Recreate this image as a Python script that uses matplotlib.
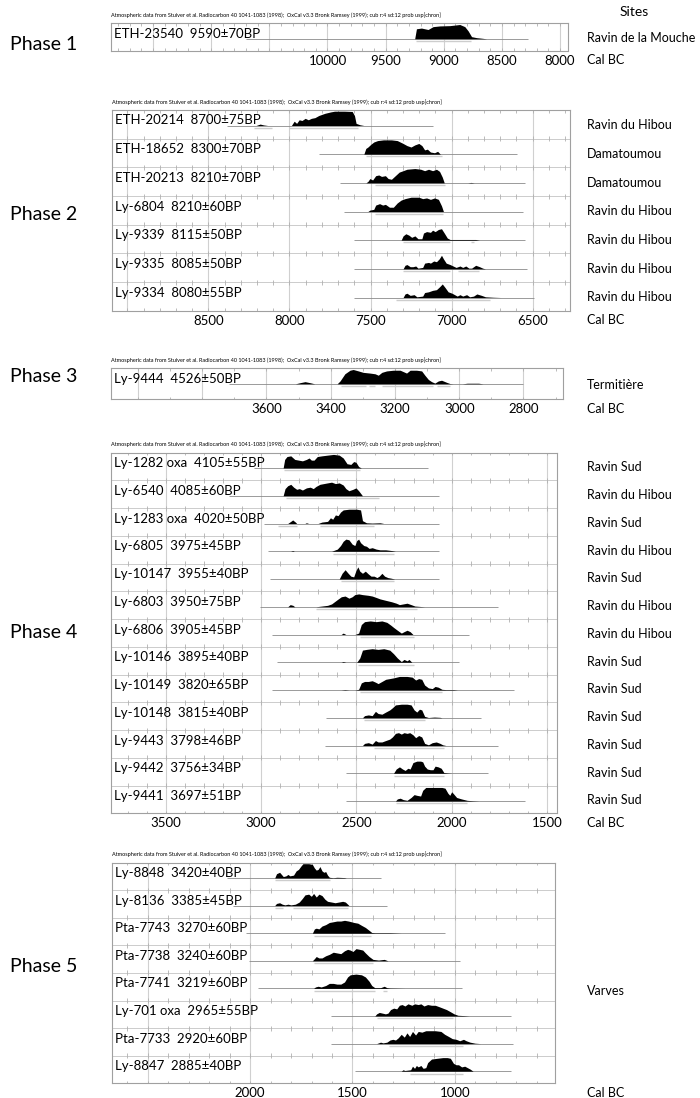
import numpy as np
import matplotlib
matplotlib.use("Agg")
import matplotlib.pyplot as plt
from matplotlib import transforms

plt.rcParams['font.family'] = ['Lato', 'DejaVu Sans']

W, H = 700, 1098
header = ("Atmospheric data from Stuiver et al. Radiocarbon 40 1041-1083 (1998);  "
          "OxCal v3.3 Bronk Ramsey (1999); cub r:4 sd:12 prob usp[chron]")

# ---------------- Phase 1 ----------------
p1_labels = ["ETH-23540  9590±70BP"]
p1_sites = ["Ravin de la Mouche"]
p1_curves = [
    [(9250, 0), (9235, .7), (9192, .75), (9135, .65), (9092, .85), (9034, .9), (8948, .92),
     (8862, 1), (8819, .85), (8790, .55), (8761, .15), (8718, .08), (8661, .03), (8632, 0)],
]
p1_lines = [(10700, 8273)]
p1_bars = [[(9240, 8770)]]

# ---------------- Phase 2 ----------------
p2_labels = ["ETH-20214  8700±75BP", "ETH-18652  8300±70BP", "ETH-20213  8210±70BP",
             "Ly-6804  8210±60BP", "Ly-9339  8115±50BP", "Ly-9335  8085±50BP",
             "Ly-9334  8080±55BP"]
p2_sites = ["Ravin du Hibou", "Damatoumou", "Damatoumou", "Ravin du Hibou",
            "Ravin du Hibou", "Ravin du Hibou", "Ravin du Hibou"]
p2_curves = [
    [(8206, 0), (8181, .1), (8160, .04), (8135, 0), (7988, 0), (7971, .3), (7956, .15), (7940, .4),
     (7923, .35), (7903, .5), (7884, .4), (7865, .5), (7843, .55), (7819, .7), (7782, .85),
     (7746, .95), (7722, 1), (7661, 1), (7613, .98), (7599, .7), (7589, .15), (7565, .05), (7541, 0)],
    [(7541, 0), (7529, .4), (7516, .5), (7497, .7), (7480, .85), (7456, .95), (7420, 1), (7371, 1),
     (7335, .95), (7299, .75), (7275, .6), (7250, .5), (7226, .65), (7202, .75), (7183, .6),
     (7166, .3), (7149, .35), (7130, .15), (7105, .1), (7086, .2), (7069, 0)],
    [(7528, 0), (7516, .1), (7504, .3), (7487, .2), (7468, .5), (7449, .55), (7432, .45), (7408, .5),
     (7391, .3), (7371, .25), (7347, .5), (7323, .75), (7299, .85), (7275, .95), (7226, 1),
     (7190, .95), (7166, .85), (7142, .95), (7117, .85), (7093, .95), (7074, .8), (7057, .4),
     (7045, 0), (6900, 0), (6880, .03), (6860, 0)],
    [(7516, 0), (7504, .1), (7480, .15), (7468, .45), (7444, .55), (7425, .45), (7408, .5),
     (7383, .3), (7359, .3), (7335, .6), (7311, .8), (7287, .9), (7250, 1), (7202, 1), (7178, .9),
     (7154, .95), (7130, .85), (7105, .95), (7081, .85), (7062, .4), (7050, 0)],
    [(7311, 0), (7299, .3), (7282, .45), (7263, .35), (7246, .2), (7226, .3), (7207, .1), (7183, .1),
     (7173, .5), (7154, .6), (7130, .55), (7117, .7), (7101, .6), (7081, .75), (7062, .8),
     (7045, .5), (7026, .15), (7009, .05), (6948, .05), (6912, .05), (6851, .05), (6827, 0)],
    [(7299, 0), (7287, .25), (7275, .3), (7255, .15), (7238, .15), (7221, .2), (7207, .05),
     (7178, .1), (7166, .4), (7142, .45), (7130, .4), (7110, .55), (7093, .5), (7076, .7),
     (7062, .95), (7050, .7), (7033, .4), (7009, .3), (6972, .1), (6948, .2), (6931, .1),
     (6912, .2), (6893, .05), (6876, .05), (6851, .25), (6827, .15), (6808, .05), (6791, 0)],
    [(7299, 0), (7287, .25), (7275, .3), (7255, .15), (7231, .2), (7214, .05), (7178, .1),
     (7166, .35), (7142, .4), (7117, .5), (7093, .55), (7074, .75), (7057, .95), (7040, .7),
     (7021, .4), (6997, .3), (6965, .1), (6948, .2), (6931, .1), (6907, .2), (6888, .05),
     (6864, .1), (6844, .25), (6815, .15), (6791, .05), (6743, .02), (6694, 0)],
]
p2_lines = [(8387, 7117), (7819, 6598), (7686, 6549), (7661, 6561), (7601, 6549),
            (7601, 6537), (7601, 6489)]
p2_bars = [[(8220, 8110), (8000, 7580)], [(7530, 7060)], [(7470, 7040)], [(7470, 7050)],
           [(7300, 7010), (6880, 6860)], [(7300, 7010), (6960, 6830)], [(7340, 6760)]]

# ---------------- Phase 3 ----------------
p3_labels = ["Ly-9444  4526±50BP"]
p3_sites = ["Termitière"]
p3_curves = [
    [(3510, 0), (3495, .08), (3480, .15), (3465, .08), (3450, 0), (3380, 0), (3371, .2),
     (3356, .7), (3340, .95), (3330, 1), (3314, .9), (3299, .8), (3278, .75), (3262, .7),
     (3252, .6), (3241, .8), (3226, .9), (3205, .95), (3184, .95), (3174, .85), (3164, .75),
     (3153, .95), (3133, .95), (3117, .9), (3107, .6), (3096, .3), (3086, .15), (3076, .05),
     (3065, .2), (3055, .25), (3039, .1), (3029, .02), (3019, 0), (2990, 0), (2975, .04),
     (2940, .04), (2926, 0)],
]
p3_lines = [(3718, 2801)]
p3_bars = [[(3368, 3290), (3282, 3262), (3241, 3082), (3070, 3029)]]

# ---------------- Phase 4 ----------------
p4_labels = ["Ly-1282 oxa  4105±55BP", "Ly-6540  4085±60BP", "Ly-1283 oxa  4020±50BP",
             "Ly-6805  3975±45BP", "Ly-10147  3955±40BP", "Ly-6803  3950±75BP",
             "Ly-6806  3905±45BP", "Ly-10146  3895±40BP", "Ly-10149  3820±65BP",
             "Ly-10148  3815±40BP", "Ly-9443  3798±46BP", "Ly-9442  3756±34BP",
             "Ly-9441  3697±51BP"]
p4_sites = ["Ravin Sud", "Ravin du Hibou", "Ravin Sud", "Ravin du Hibou", "Ravin Sud",
            "Ravin du Hibou", "Ravin du Hibou", "Ravin Sud", "Ravin Sud", "Ravin Sud",
            "Ravin Sud", "Ravin Sud", "Ravin Sud"]
p4_curves = [
    [(2884, 0), (2876, .6), (2864, .8), (2844, .85), (2823, .6), (2803, .55), (2783, .5),
     (2762, .6), (2748, .7), (2736, .55), (2722, .55), (2705, .8), (2681, .85), (2651, .9),
     (2620, .95), (2590, .9), (2569, .7), (2549, .3), (2529, .25), (2514, .45), (2502, .4),
     (2488, .1), (2474, 0)],
    [(2884, 0), (2874, .5), (2860, .7), (2844, .8), (2829, .6), (2813, .45), (2799, .5),
     (2783, .4), (2762, .55), (2742, .6), (2726, .5), (2712, .65), (2691, .8), (2671, .85),
     (2651, .9), (2630, .95), (2610, .85), (2590, .9), (2569, .75), (2555, .5), (2539, .35),
     (2518, .45), (2502, .55), (2488, .35), (2468, 0)],
    [(2860, 0), (2844, .15), (2834, .25), (2820, .1), (2813, 0), (2770, 0), (2762, .05),
     (2750, 0), (2701, 0), (2681, .1), (2651, .15), (2636, .4), (2624, .3), (2610, .6),
     (2596, .55), (2583, .8), (2569, .95), (2539, 1), (2498, 1), (2478, .95), (2468, .2),
     (2447, .05), (2417, .03), (2376, .05), (2356, 0)],
    [(2845, 0), (2834, .05), (2825, 0), (2630, 0), (2620, .05), (2600, .15), (2583, .4),
     (2569, .7), (2555, .85), (2539, .8), (2522, .5), (2508, .4), (2498, .75), (2488, .85),
     (2478, .6), (2461, .4), (2447, .35), (2433, .2), (2417, .25), (2396, .15), (2376, .1),
     (2346, .1), (2315, .05), (2295, 0)],
    [(2590, 0), (2575, .4), (2559, .65), (2543, .4), (2529, .2), (2514, .15), (2502, .6),
     (2492, .85), (2482, .55), (2468, .4), (2453, .55), (2437, .35), (2423, .2), (2407, .2),
     (2392, .1), (2380, .2), (2366, .4), (2352, .2), (2335, .1), (2315, .05), (2299, 0)],
    [(2860, 0), (2847, .15), (2833, .1), (2823, 0), (2712, 0), (2681, .05), (2651, .1),
     (2630, .2), (2620, .3), (2600, .5), (2579, .7), (2559, .75), (2539, .6), (2522, .7),
     (2508, .85), (2488, .9), (2468, .85), (2437, .8), (2417, .75), (2396, .65), (2376, .55),
     (2346, .45), (2315, .35), (2291, .25), (2274, .15), (2254, .2), (2234, .25), (2213, .15),
     (2193, .05), (2173, .03), (2142, 0)],
    [(2580, 0), (2569, .1), (2555, 0), (2508, 0), (2488, .1), (2474, .7), (2457, .9),
     (2427, .95), (2396, .9), (2366, .95), (2340, .85), (2319, .65), (2305, .5), (2285, .3),
     (2264, .1), (2250, .2), (2234, .3), (2218, .2), (2203, 0)],
    [(2580, 0), (2569, .05), (2555, 0), (2498, 0), (2482, .3), (2468, .85), (2447, .9),
     (2417, .95), (2386, .9), (2356, .95), (2325, .85), (2305, .6), (2285, .3), (2264, .05),
     (2250, .2), (2234, .1), (2224, .2), (2209, 0)],
    [(2580, 0), (2560, .03), (2539, 0), (2508, 0), (2488, .05), (2474, .5), (2457, .6),
     (2437, .6), (2417, .65), (2400, .55), (2386, .45), (2366, .6), (2346, .75), (2325, .8),
     (2305, .85), (2274, .95), (2234, .95), (2207, .9), (2189, .7), (2173, .8), (2157, .75),
     (2142, .35), (2122, .15), (2102, .1), (2087, .25), (2071, .2), (2051, .05), (2030, .03),
     (1990, .03), (1970, 0)],
    [(2468, 0), (2457, .15), (2437, .2), (2417, .15), (2400, .45), (2386, .3), (2366, .25),
     (2346, .4), (2325, .55), (2311, .7), (2295, .9), (2264, .95), (2234, .95), (2213, .9),
     (2197, .55), (2183, .4), (2169, .6), (2157, .55), (2142, .1), (2122, .02), (2091, .05),
     (2061, .03), (2051, 0)],
    [(2468, 0), (2457, .15), (2437, .2), (2417, .1), (2400, .35), (2386, .25), (2366, .25),
     (2346, .35), (2325, .45), (2311, .6), (2295, .85), (2279, .9), (2264, .8), (2250, .9),
     (2234, .85), (2220, .9), (2203, .75), (2189, .55), (2173, .7), (2157, .6), (2142, .15),
     (2122, .05), (2102, .2), (2081, .25), (2061, .15), (2047, .05), (2030, 0)],
    [(2305, 0), (2291, .3), (2274, .45), (2258, .3), (2244, .2), (2230, .35), (2218, .3),
     (2203, .75), (2183, .85), (2163, .85), (2152, .8), (2142, .5), (2128, .3), (2112, .25),
     (2098, .25), (2087, .5), (2071, .45), (2055, .35), (2041, .05), (2020, .02), (2000, 0)],
    [(2295, 0), (2285, .15), (2270, .2), (2254, .1), (2234, .05), (2213, .25), (2197, .45),
     (2183, .4), (2163, .35), (2152, .75), (2136, .95), (2091, .95), (2051, .95), (2035, .9),
     (2020, .55), (2010, .4), (2000, .65), (1990, .5), (1974, .25), (1949, .15), (1919, .05),
     (1888, .02), (1858, 0)],
]
p4_lines = [(3037, 2122), (3169, 2067), (2986, 2067), (2966, 2067), (2951, 2067),
            (3006, 1756), (2945, 1909), (2915, 1959), (2945, 1675), (2661, 1848),
            (2665, 1756), (2555, 1807), (2555, 1614)]
p4_bars = [[(2880, 2480)], [(2870, 2380)], [(2909, 2813), (2690, 2410)], [(2620, 2300)],
           [(2580, 2300)], [(2710, 2180)], [(2480, 2200)], [(2490, 2200)], [(2480, 2050)],
           [(2460, 2140)], [(2410, 2040)], [(2300, 2040)], [(2290, 1920)]]

# ---------------- Phase 5 ----------------
p5_labels = ["Ly-8848  3420±40BP", "Ly-8136  3385±45BP", "Pta-7743  3270±60BP",
             "Pta-7738  3240±60BP", "Pta-7741  3219±60BP", "Ly-701 oxa  2965±55BP",
             "Pta-7733  2920±60BP", "Ly-8847  2885±40BP"]
p5_site = "Varves"
p5_curves = [
    [(1880, 0), (1871, .3), (1856, .4), (1847, .25), (1838, .1), (1825, .15), (1815, .25),
     (1806, .15), (1788, .2), (1775, .5), (1764, .6), (1751, .85), (1742, 1), (1714, 1),
     (1696, .95), (1686, .7), (1677, .55), (1668, .6), (1659, .8), (1649, .5), (1640, .4),
     (1631, .45), (1622, .2), (1613, .05), (1594, .02), (1576, .05), (1539, .03), (1530, 0)],
    [(1880, 0), (1871, .15), (1856, .2), (1843, .1), (1830, .05), (1815, .1), (1801, .05),
     (1779, .1), (1760, .25), (1745, .5), (1732, .75), (1714, .8), (1701, .65), (1690, .85),
     (1677, .6), (1664, .8), (1649, .7), (1635, .45), (1622, .3), (1603, .25), (1585, .2),
     (1566, .25), (1548, .3), (1535, .25), (1524, .1), (1517, 0)],
    [(1696, 0), (1686, .3), (1677, .35), (1664, .3), (1649, .5), (1631, .6), (1613, .75),
     (1594, .8), (1576, .85), (1557, .85), (1539, .9), (1520, .85), (1506, .8), (1493, .75),
     (1474, .7), (1456, .55), (1437, .4), (1419, .2), (1406, .05), (1391, .03), (1317, .03),
     (1262, 0)],
    [(1696, 0), (1686, .15), (1677, .3), (1664, .2), (1649, .2), (1631, .35), (1613, .45),
     (1594, .6), (1576, .55), (1557, .5), (1539, .7), (1524, .8), (1511, .75), (1498, .65),
     (1483, .85), (1465, .8), (1450, .75), (1437, .55), (1419, .3), (1400, .1), (1373, .05),
     (1345, .1), (1327, 0)],
    [(1690, 0), (1681, .1), (1668, .15), (1653, .1), (1631, .2), (1613, .35), (1594, .35),
     (1576, .3), (1557, .3), (1539, .45), (1524, .8), (1511, .95), (1483, 1), (1456, .95),
     (1437, .8), (1419, .5), (1406, .2), (1391, .05), (1363, .05), (1345, .15), (1332, .05),
     (1317, .02), (1244, 0)],
    [(1391, 0), (1382, .15), (1369, .25), (1354, .2), (1339, .15), (1327, .2), (1314, .45),
     (1299, .55), (1284, .5), (1271, .75), (1258, .8), (1244, .7), (1229, .85), (1210, .75),
     (1197, .85), (1179, .8), (1166, .85), (1151, .7), (1133, .8), (1114, .75), (1096, .75),
     (1077, .65), (1059, .55), (1041, .45), (1022, .3), (1004, .15), (985, .05), (958, .03),
     (930, 0)],
    [(1382, 0), (1363, .1), (1351, .05), (1332, .1), (1317, .25), (1303, .3), (1290, .25),
     (1277, .4), (1262, .65), (1247, .45), (1234, .75), (1221, .5), (1207, .85), (1192, .6),
     (1179, .85), (1161, .8), (1142, .9), (1096, .9), (1068, .85), (1050, .65), (1031, .5),
     (1013, .35), (994, .3), (976, .2), (958, .3), (945, .2), (926, .1), (902, .03), (875, 0)],
    [(1262, 0), (1253, .1), (1244, .05), (1216, .1), (1207, .35), (1197, .2), (1188, .4),
     (1179, .3), (1166, .4), (1155, .2), (1142, .25), (1133, .6), (1114, .85), (1087, .9),
     (1059, .95), (1037, .95), (1022, .9), (1007, .55), (994, .45), (982, .45), (967, .3),
     (952, .35), (939, .25), (926, .15), (911, 0)],
]
p5_lines = [(2111, 1363), (2083, 1332), (2022, 1050), (2004, 976), (1963, 967),
            (1603, 727), (1603, 718), (1487, 727)]
p5_bars = [[(1880, 1610)], [(1880, 1840), (1790, 1520)], [(1690, 1410)], [(1690, 1400)],
           [(1690, 1390), (1350, 1330)], [(1380, 1010)], [(1320, 960)], [(1220, 960)]]

fig = plt.figure(figsize=(W / 100, H / 100), dpi=100)


def draw_phase(box, xlim, grid_years, tick_years, labels, curves, lines, bars,
               phase_name, phase_y, sites=None, site_y=None):
    x0, y0, x1, y1 = box
    ax = fig.add_axes([x0 / W, 1 - y1 / H, (x1 - x0) / W, (y1 - y0) / H])
    n = len(labels)
    row_px = (y1 - y0) / n
    px = 1.0 / row_px
    ax.set_xlim(*xlim)
    ax.set_ylim(n, 0)
    ax.set_yticks([])
    ax.set_xticks(tick_years)
    ax.set_xticklabels([str(t) for t in tick_years])
    ax.tick_params(axis='x', length=0, pad=3, labelsize=9.5)
    for s in ax.spines.values():
        s.set_color('#a0a0a0')
        s.set_linewidth(0.8)
    for g in grid_years:
        ax.axvline(g, color='#d0d0d0', lw=0.8, zorder=0)
    for r in range(1, n):
        ax.axhline(r, color='#cccccc', lw=0.7, zorder=0)
    left, right = xlim
    minor = np.arange(np.ceil(right / 100) * 100, left, 100)
    for r in range(n + 1):
        ax.vlines(minor, r - 2.5 * px, r + 2.5 * px, color='#b0b0b0', lw=0.6, zorder=1)

    tr = transforms.blended_transform_factory(ax.transAxes, ax.transData)
    for i in range(n):
        base = i + 15.5 * px
        a, b = lines[i]
        ax.hlines(base, a, b, color='#8a8a8a', lw=0.6, zorder=2)
        for (c, d) in bars[i]:
            ax.hlines(base + 2.3 * px, c, d, color='#cdcdcd', lw=1.0, zorder=2)
        xs = np.array([p[0] for p in curves[i]], dtype=float)
        ys = np.array([p[1] for p in curves[i]], dtype=float)
        ax.fill_between(xs, base, base - 14.3 * px * ys, color='black', lw=0, zorder=3)
        ax.text(0.007, i + 10.5 * px, labels[i], transform=tr, fontsize=9.5,
                va='center', ha='left', zorder=4)
        if sites is not None:
            fig.text(587 / W, 1 - (y0 + (i + 0.5) * row_px + 1) / H, sites[i],
                     fontsize=9, va='center', ha='left')
    if site_y is not None:
        fig.text(587 / W, 1 - site_y / H, p5_site, fontsize=9, va='center', ha='left')

    fig.text(x0 / W, 1 - (y0 - 8) / H, header, fontsize=4.0, va='center', ha='left')
    fig.text(10 / W, 1 - phase_y / H, phase_name, fontsize=14, va='center', ha='left')
    fig.text(587 / W, 1 - (y1 + 9.5) / H, "Cal BC", fontsize=9, va='center', ha='left')
    return ax


draw_phase((111, 23.3, 567.7, 50.7), (11862, 7934),
           [11500, 11000, 10500, 10000, 9500, 9000, 8500, 8000],
           [10000, 9500, 9000, 8500, 8000],
           p1_labels, p1_curves, p1_lines, p1_bars, "Phase 1", 45, sites=p1_sites)

draw_phase((111.7, 110, 570, 310.7), (9097, 6269),
           [9000, 8500, 8000, 7500, 7000, 6500],
           [8500, 8000, 7500, 7000, 6500],
           p2_labels, p2_curves, p2_lines, p2_bars, "Phase 2", 215, sites=p2_sites)

draw_phase((111, 368.3, 563, 399), (4084, 2677),
           [4000, 3800, 3600, 3400, 3200, 3000, 2800],
           [3600, 3400, 3200, 3000, 2800],
           p3_labels, p3_curves, p3_lines, p3_bars, "Phase 3", 376, sites=p3_sites)

draw_phase((111, 452.5, 557.3, 813.3), (3787, 1446),
           [3500, 3000, 2500, 2000, 1500],
           [3500, 3000, 2500, 2000, 1500],
           p4_labels, p4_curves, p4_lines, p4_bars, "Phase 4", 633, sites=p4_sites)

draw_phase((111.7, 862.5, 555, 1083.3), (2676, 511),
           [2500, 2000, 1500, 1000],
           [2000, 1500, 1000],
           p5_labels, p5_curves, p5_lines, p5_bars, "Phase 5", 966, site_y=991)

fig.text(620 / W, 1 - 12 / H, "Sites", fontsize=10, va='center', ha='left')

fig.savefig("out.png", dpi=100)
